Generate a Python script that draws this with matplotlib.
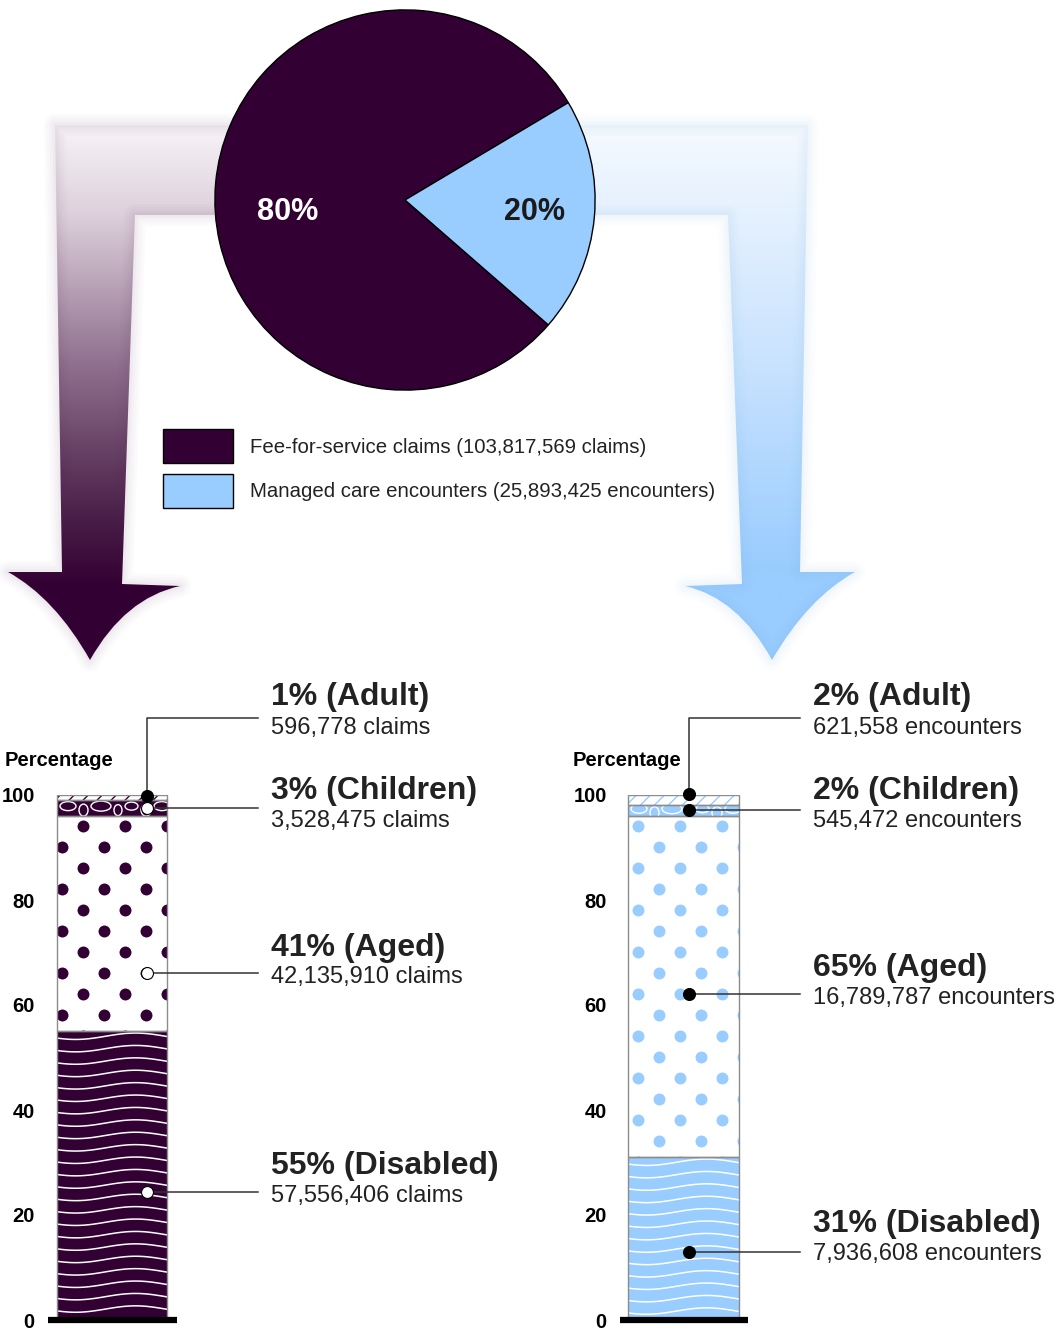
import matplotlib
matplotlib.use("Agg")
import matplotlib.pyplot as plt
import numpy as np
from matplotlib.path import Path
from matplotlib.patches import PathPatch, Ellipse
from matplotlib.collections import LineCollection
from matplotlib.colors import LinearSegmentedColormap

plt.rcParams["font.family"] = ["Liberation Sans", "DejaVu Sans"]

W, H = 1055, 1332
DARK = "#330033"
LIGHT = "#99ccff"
TXT = "#222222"

# ---- data -------------------------------------------------------------
pie_labels = ["Fee-for-service claims", "Managed care encounters"]
pie_units = ["claims", "encounters"]
pie_counts = [103817569, 25893425]

groups = ["Adult", "Children", "Aged", "Disabled"]
ffs_pct = [1, 3, 41, 55]
ffs_counts = [596778, 3528475, 42135910, 57556406]
mc_pct = [2, 2, 65, 31]
mc_counts = [621558, 545472, 16789787, 7936608]
yticks = [0, 20, 40, 60, 80, 100]

fig = plt.figure(figsize=(W / 100, H / 100), dpi=100)

# overlay axes in pixel coordinates (y down)
ov = fig.add_axes([0, 0, 1, 1], zorder=0)
ov.set_xlim(0, W)
ov.set_ylim(H, 0)
ov.axis("off")


def gradient_arrow(verts, codes, colors, y0, y1, x0, x1, glow):
    path = Path(verts, codes)
    for lw, a in [(16, 0.015), (12, 0.02), (8, 0.025), (4, 0.03)]:
        ov.add_patch(PathPatch(path, facecolor="none", edgecolor=glow, lw=lw,
                               alpha=a, joinstyle="round"))
    clip = PathPatch(path, facecolor="none", edgecolor="none")
    ov.add_patch(clip)
    cmap = LinearSegmentedColormap.from_list("g", colors)
    grad = np.linspace(0, 1, 256).reshape(-1, 1)
    im = ov.imshow(grad, cmap=cmap, aspect="auto", origin="upper",
                   extent=(x0, x1, y1, y0), interpolation="bilinear")
    im.set_clip_path(clip)


C3, L, M = Path.CURVE3, Path.LINETO, Path.MOVETO
arrow_codes = [M, L, L, L, L, L, C3, C3, C3, C3, L, Path.CLOSEPOLY]
# gradient spans y 120..670; colours reach full strength near y 600
gradient_arrow(
    [(55, 125), (250, 125), (250, 215), (135, 215), (122, 584), (180, 586),
     (125, 598), (90, 660), (55, 598), (8, 572), (62, 572), (55, 125)],
    arrow_codes,
    [(0, "#f8f6f8"), (0.17, "#ddd0dc"), (0.45, "#8e6e8c"), (0.72, "#4a1f48"),
     (0.85, DARK), (1, DARK)],
    120, 670, 0, 260, "#5a2a58")
gradient_arrow(
    [(808, 125), (560, 125), (560, 215), (728, 215), (742, 584), (685, 586),
     (738, 598), (772, 660), (808, 598), (855, 572), (800, 572), (808, 125)],
    arrow_codes,
    [(0, "#f6faff"), (0.45, "#c8e2fe"), (0.82, LIGHT), (1, LIGHT)],
    120, 670, 550, 870, "#6fb4fa")

# ---- pie --------------------------------------------------------------
ax_pie = fig.add_axes([213 / W, 1 - 392 / H, 384 / W, 384 / H], zorder=1)
wedges, _, autotexts = ax_pie.pie(
    pie_counts, colors=[DARK, LIGHT], startangle=30.8, counterclock=True,
    autopct="%.0f%%", pctdistance=0.65,
    wedgeprops=dict(edgecolor="black", linewidth=1),
    textprops=dict(fontsize=22, fontweight="bold"))
ax_pie.set_xlim(-1.01, 1.01)
ax_pie.set_ylim(-1.01, 1.01)
autotexts[0].set_position((-0.615, -0.065))
autotexts[0].set_color("white")
autotexts[1].set_position((0.68, -0.065))
autotexts[1].set_color("#1a1a1a")

ax_pie.legend(wedges, [f"{l} ({c:,} {u})" for l, c, u in zip(pie_labels, pie_counts, pie_units)],
              loc="upper left", bbox_to_anchor=(163 / W, 1 - 429 / H),
              bbox_transform=fig.transFigure, frameon=False, borderpad=0,
              borderaxespad=0, fontsize=14.7, handlelength=3.43, handleheight=2.21,
              labelspacing=0.52, handletextpad=0.83, labelcolor=TXT)


# ---- stacked bars -----------------------------------------------------
def px(ax, x, y):
    return ov.transData.inverted().transform(ax.transData.transform((x, y)))


def waves(ax, box, clip):
    x0, x1, yt, yb = box
    segs = []
    for y in np.arange(yt + 5, yb + 12, 12.4):
        xs = np.linspace(x0 - 2, x1 + 2, 80)
        ys = y + 3.2 * np.sin(2 * np.pi * (xs - x0) / 120 + 0.6)
        segs.append(np.column_stack([xs, ys]))
    lc = LineCollection(segs, colors="white", linewidths=1.1,
                        transform=ov.transData, zorder=2)
    ax.add_collection(lc)
    lc.set_clip_path(clip)


def dots(ax, box, clip, color, xa):
    x0, x1, yt, yb = box
    xs, ys = [], []
    for k, y in enumerate(np.arange(826 - 21 * 2, yb + 10, 21)):
        off = xa + (0 if k % 2 == 0 else 21)
        for x in np.arange(off - 42, x1 + 10, 42):
            xs.append(x)
            ys.append(y)
    ln, = ax.plot(xs, ys, "o", ms=8.6, color=color, mec="none",
                  transform=ov.transData, zorder=2)
    ln.set_clip_path(clip)


def curls(ax, box, clip):
    x0, x1, yt, yb = box
    cy = (yt + yb) / 2
    sizes = [(16, 9), (9, 12), (20, 10), (8, 11), (13, 8), (10, 12)]
    x, i = x0 + 3, 0
    while x < x1 + 10:
        w, h = sizes[i % len(sizes)]
        e = Ellipse((x + w / 2, cy + (2 if i % 2 else -2)), w, h,
                    transform=ov.transData, fill=False, edgecolor="white",
                    lw=1.0, zorder=2)
        ax.add_patch(e)
        e.set_clip_path(clip)
        x += w + 3
        i += 1


def diag(ax, box, clip, color):
    x0, x1, yt, yb = box
    h = yb - yt
    segs = [[(x, yb + 4), (x + h + 8, yt - 4)] for x in np.arange(x0 - 20, x1 + 20, 14)]
    lc = LineCollection(segs, colors=color, linewidths=1.0,
                        transform=ov.transData, zorder=2)
    ax.add_collection(lc)
    lc.set_clip_path(clip)


def stacked(bar_l, bar_r, base_l, base_r, pct, counts, unit, fill, dot_xa,
            dot_x, dot_y, dot_face, title_y, sub_y, line_end, text_x, plab_x):
    wpx = bar_r - bar_l
    ax = fig.add_axes([base_l / W, 1 - 1320 / H, (base_r - base_l) / W, 525 / H], zorder=2)
    cx = (bar_l + bar_r) / 2
    ax.set_xlim(-(cx - base_l) / wpx, (base_r - cx) / wpx)
    ax.set_ylim(0, 100)
    ax.set_autoscale_on(False)
    ax.patch.set_alpha(0)
    for s in ax.spines.values():
        s.set_visible(False)
    ax.set_xticks([])
    ax.set_yticks(yticks)
    ax.set_yticklabels([str(t) for t in yticks], fontsize=14.5, fontweight="bold")
    ax.tick_params(axis="y", length=0, pad=9.5)

    # stack bottom-up: Disabled, Aged, Children, Adult
    order = [3, 2, 1, 0]
    bottom = 0
    faces = {0: "white", 1: fill, 2: "white", 3: fill}
    for i in order:
        rect = ax.bar(0, pct[i], bottom=bottom, width=1, color=faces[i],
                      edgecolor="none", zorder=1)[0]
        (xa, yb), (xb, yt) = px(ax, -0.5, bottom), px(ax, 0.5, bottom + pct[i])
        box = (xa, xb, yt, yb)
        if i == 3:
            waves(ax, box, rect)
        elif i == 2:
            dots(ax, box, rect, fill, dot_xa)
        elif i == 1:
            curls(ax, box, rect)
        else:
            diag(ax, box, rect, fill)
        ax.bar(0, pct[i], bottom=bottom, width=1, fill=False,
               edgecolor="#8c8c8c", lw=1.0, zorder=3)
        bottom += pct[i]
    ax.axhline(0, color="black", lw=4.5, clip_on=False, zorder=4,
               solid_capstyle="butt")

    # leaders and labels
    for i in range(4):
        x, y = px(ax, dot_x, dot_y[i])
        if i == 0:
            xs, ys = [x, x, line_end], [y, 718, 718]
        else:
            xs, ys = [x, line_end], [y, y]
        ax.plot(xs, ys, color="#333333", lw=1.1, transform=ov.transData,
                clip_on=False, zorder=5)
        ax.plot([x], [y], "o", ms=8.6, mfc=dot_face[i], mec="black", mew=0.8,
                transform=ov.transData, clip_on=False, zorder=6)
        ov.text(text_x, title_y[i], f"{pct[i]}% ({groups[i]})", fontsize=23,
                fontweight="bold", color=TXT, va="baseline")
        ov.text(text_x, sub_y[i], f"{counts[i]:,} {unit}", fontsize=17,
                color=TXT, va="baseline")
    ov.text(plab_x, 761, "Percentage", fontsize=14.5, fontweight="bold",
            va="center", ha="left")
    return ax


stacked(57, 167, 48, 177, ffs_pct, ffs_counts, "claims", DARK, 83,
        0.318, [99.8, 97.5, 66.1, 24.4], ["black", "white", "white", "white"],
        [705, 799, 956, 1174], [734, 827, 983, 1202], 258, 271, 5)
stacked(628, 739, 620, 748, mc_pct, mc_counts, "encounters", LIGHT, 638,
        0.05, [100.1, 97.2, 62.1, 13.0], ["black"] * 4,
        [705, 799, 976, 1232], [734, 827, 1004, 1260], 800, 813, 573)

fig.savefig("out.png", dpi=100)
